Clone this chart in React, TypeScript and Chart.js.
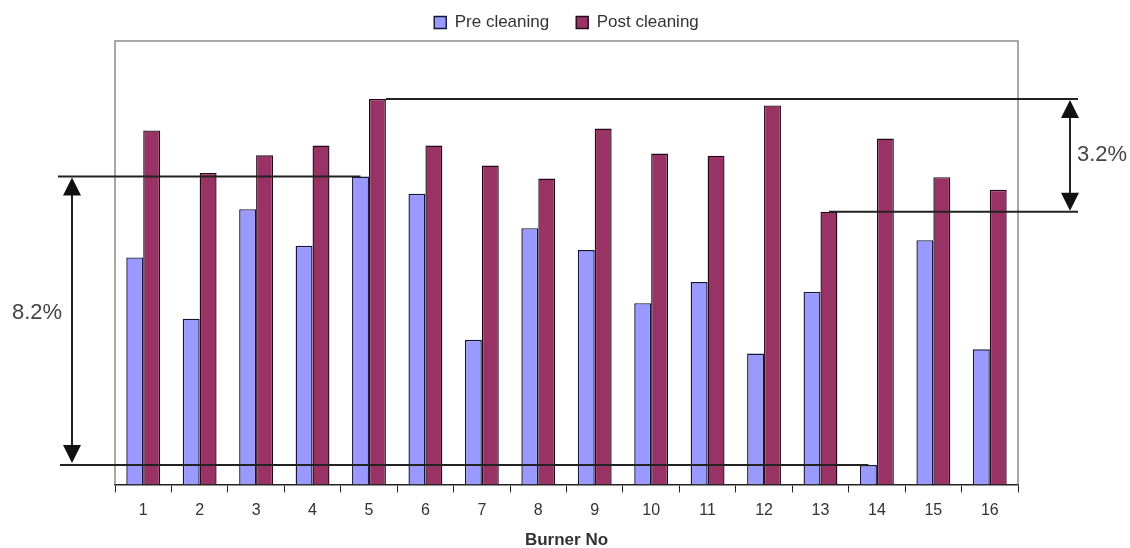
import React, { useEffect, useRef } from "react";
import { Chart, registerables } from "chart.js";

Chart.register(...registerables);

// Burner numbers along the x axis
const burners = ["1", "2", "3", "4", "5", "6", "7", "8", "9", "10", "11", "12", "13", "14", "15", "16"];

// Relative level per burner before and after cleaning (percentage points)
const preCleaning = [6.45, 4.71, 7.82, 6.78, 8.75, 8.26, 4.11, 7.28, 6.66, 5.15, 5.75, 3.72, 5.47, 0.55, 6.94, 3.84];
const postCleaning = [10.06, 8.85, 9.35, 9.63, 10.95, 9.63, 9.06, 8.69, 10.11, 9.4, 9.34, 10.77, 7.75, 9.83, 8.73, 8.37];

const seriesNames = ["Pre cleaning", "Post cleaning"];
const axisTitle = "Burner No";

const FONT = "'Liberation Sans', Arial, Helvetica, sans-serif";

function arrowHead(ctx: CanvasRenderingContext2D, x: number, tipY: number, dir: number) {
  // dir = -1: pointing up, dir = 1: pointing down
  const h = 18;
  const w = 9;
  ctx.beginPath();
  ctx.moveTo(x, tipY);
  ctx.lineTo(x - w, tipY - dir * h);
  ctx.lineTo(x + w, tipY - dir * h);
  ctx.closePath();
  ctx.fill();
}

// Grey frame around the plot area (left, top, right edges)
const framePlugin = {
  id: "plotFrame",
  beforeDatasetsDraw(chart: any) {
    const { ctx, chartArea } = chart;
    ctx.save();
    ctx.strokeStyle = "#8a8a8a";
    ctx.lineWidth = 1.5;
    ctx.beginPath();
    ctx.moveTo(chartArea.left, chartArea.bottom);
    ctx.lineTo(chartArea.left, chartArea.top);
    ctx.lineTo(chartArea.right, chartArea.top);
    ctx.lineTo(chartArea.right, chartArea.bottom);
    ctx.stroke();
    ctx.restore();
  },
};

// Range markers: spread of pre-cleaning levels (left) and post-cleaning levels (right)
const spreadPlugin = {
  id: "spreadMarkers",
  afterDatasetsDraw(chart: any) {
    const { ctx } = chart;
    const yScale = chart.scales.y;
    const preBars = chart.getDatasetMeta(0).data;
    const postBars = chart.getDatasetMeta(1).data;

    const preHi = preCleaning.indexOf(Math.max(...preCleaning));
    const preLo = preCleaning.indexOf(Math.min(...preCleaning));
    const postHi = postCleaning.indexOf(Math.max(...postCleaning));
    const postLo = postCleaning.indexOf(Math.min(...postCleaning));

    const yPreHi = yScale.getPixelForValue(preCleaning[preHi]);
    const yPreLo = yScale.getPixelForValue(preCleaning[preLo]);
    const yPostHi = yScale.getPixelForValue(postCleaning[postHi]);
    const yPostLo = yScale.getPixelForValue(postCleaning[postLo]);

    const preSpread = (preCleaning[preHi] - preCleaning[preLo]).toFixed(1) + "%";
    const postSpread = (postCleaning[postHi] - postCleaning[postLo]).toFixed(1) + "%";

    ctx.save();
    ctx.strokeStyle = "#222";
    ctx.fillStyle = "#111";
    ctx.lineWidth = 2;

    // left pair of guide lines
    const leftX0 = 58;
    const arrowLX = 72;
    ctx.beginPath();
    ctx.moveTo(leftX0, yPreHi);
    ctx.lineTo(preBars[preHi].x, yPreHi);
    ctx.moveTo(leftX0 + 2, yPreLo);
    ctx.lineTo(preBars[preLo].x, yPreLo);
    ctx.stroke();

    // left double arrow
    ctx.beginPath();
    ctx.moveTo(arrowLX, yPreHi + 10);
    ctx.lineTo(arrowLX, yPreLo - 10);
    ctx.stroke();
    arrowHead(ctx, arrowLX, yPreHi + 1, -1);
    arrowHead(ctx, arrowLX, yPreLo - 2, 1);

    // right pair of guide lines
    const rightX1 = 1078;
    const arrowRX = 1070;
    ctx.beginPath();
    const p5 = postBars[postHi];
    ctx.moveTo(p5.x + p5.width / 2, yPostHi);
    ctx.lineTo(rightX1, yPostHi);
    ctx.moveTo(postBars[postLo].x, yPostLo);
    ctx.lineTo(rightX1, yPostLo);
    ctx.stroke();

    ctx.beginPath();
    ctx.moveTo(arrowRX, yPostHi + 10);
    ctx.lineTo(arrowRX, yPostLo - 10);
    ctx.stroke();
    arrowHead(ctx, arrowRX, yPostHi + 1, -1);
    arrowHead(ctx, arrowRX, yPostLo - 1, 1);

    // labels
    ctx.fillStyle = "#444";
    ctx.font = `22px ${FONT}`;
    ctx.textAlign = "center";
    ctx.textBaseline = "middle";
    ctx.fillText(preSpread, 37, (yPreHi + yPreLo) / 2 - 8);
    ctx.fillText(postSpread, 1102, (yPostHi + yPostLo) / 2);
    ctx.restore();
  },
};

export default function App() {
  const canvasRef = useRef<HTMLCanvasElement | null>(null);

  useEffect(() => {
    const canvas = canvasRef.current;
    if (!canvas) return;
    Chart.defaults.font.family = FONT;

    const chart = new Chart(canvas, {
      type: "bar",
      data: {
        labels: burners,
        datasets: [
          {
            label: seriesNames[0],
            data: preCleaning,
            backgroundColor: "#9999ff",
            borderColor: "#14143a",
            borderWidth: 1.4,
          },
          {
            label: seriesNames[1],
            data: postCleaning,
            backgroundColor: "#993366",
            borderColor: "#240818",
            borderWidth: 1.4,
          },
        ],
      },
      options: {
        animation: false,
        responsive: false,
        maintainAspectRatio: false,
        devicePixelRatio: 1,
        layout: { padding: { top: -13, left: 115, right: 112, bottom: -3 } },
        datasets: {
          bar: { categoryPercentage: 0.6, barPercentage: 1.0 },
        },
        plugins: {
          tooltip: { enabled: false },
          legend: {
            display: true,
            position: "top",
            labels: {
              boxWidth: 12,
              boxHeight: 12,
              padding: 27,
              color: "#333",
              font: { size: 17, family: FONT },
            },
          },
        },
        scales: {
          x: {
            grid: {
              display: true,
              drawOnChartArea: false,
              drawTicks: true,
              tickLength: 8,
              color: "#222",
              offset: true,
            },
            border: { display: true, color: "#222", width: 1.5 },
            ticks: {
              color: "#333",
              padding: 9,
              font: { size: 16, family: FONT },
            },
            title: {
              display: true,
              text: axisTitle,
              color: "#333",
              padding: { top: 1, bottom: 0 },
              font: { size: 17, weight: "bold", family: FONT },
            },
          },
          y: {
            display: false,
            min: 0,
            max: 12.6,
          },
        },
      },
      plugins: [framePlugin, spreadPlugin],
    });

    return () => chart.destroy();
  }, []);

  return (
    <div style={{ position: "fixed", left: 0, top: 0, width: 1130, height: 548, background: "#fff" }}>
      <canvas ref={canvasRef} width={1130} height={548} style={{ display: "block" }} />
    </div>
  );
}
